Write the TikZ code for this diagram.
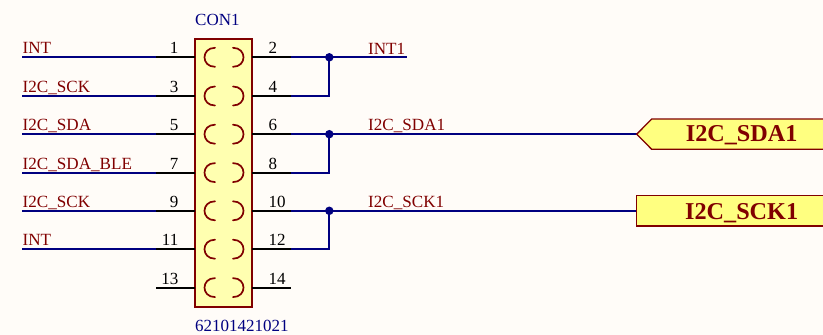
\documentclass[tikz,border=0pt]{standalone}
\usepackage{fontspec}
\setmainfont{Liberation Serif}
\definecolor{paper}{HTML}{FFFCF8}
\definecolor{wirecol}{HTML}{000080}
\definecolor{redcol}{HTML}{800000}
\definecolor{bodycol}{HTML}{FFFFB0}
\definecolor{portcol}{HTML}{FFFF80}
\tikzset{
  wire/.style={draw=wirecol,line width=2pt},
  pinline/.style={draw=black,line width=2pt},
  netlabel/.style={anchor=base west,inner sep=0pt,text=redcol,font=\fontsize{17.1}{20}\selectfont},
  pinl/.style={anchor=base east,inner sep=0pt,text=black,font=\fontsize{17}{20}\selectfont},
  pinr/.style={anchor=base west,inner sep=0pt,text=black,font=\fontsize{17}{20}\selectfont},
  deslabel/.style={anchor=base west,inner sep=0pt,text=wirecol,font=\fontsize{17}{20}\selectfont},
  porttext/.style={anchor=base west,inner sep=0pt,text=redcol,font=\fontsize{24.2}{28}\selectfont\bfseries},
  portshape/.style={draw=redcol,fill=portcol,line width=1.3pt},
  contact/.style={draw=redcol,line width=1.7pt,line cap=round},
  junction/.style={circle,fill=wirecol,inner sep=0pt,minimum size=8.5pt},
}
\begin{document}
\begin{tikzpicture}[x=1pt,y=-1pt]
\useasboundingbox (0,0) rectangle (823,335);
\clip (0,0) rectangle (823,335);
\fill[paper] (0,0) rectangle (823,335);
% connector body
\draw[draw=redcol,fill=bodycol,line width=2pt] (195,38.5) rectangle (252.3,306.5);
\node[deslabel] (des) at (195,25) {CON1};
\node[deslabel] (val) at (195,331.7) {62101421021};
% rows
\foreach \r/\yy/\a/\b in {1/57.3/1/2,2/96/3/4,3/134.2/5/6,4/172.6/7/8,5/210.8/9/10,6/249.2/11/12,7/287.6/13/14}{
  \coordinate (L\r) at (195,\yy);
  \coordinate (Lo\r) at (156,\yy);
  \coordinate (R\r) at (252.3,\yy);
  \coordinate (Ro\r) at (291,\yy);
  \coordinate (J\r) at (329.3,\yy);
  \draw[pinline] (L\r) -- (Lo\r);
  \draw[pinline] (R\r) -- (Ro\r);
  \node[pinl] (pa\r) at (178.5,\yy-3.4) {\a};
  \node[pinr] (pb\r) at (268.5,\yy-3.4) {\b};
  \draw[contact] (215,\yy-9.5) .. controls (201,\yy-9.5) and (201,\yy+9.5) .. (215,\yy+9.5);
  \draw[contact] (233,\yy-9.5) .. controls (247,\yy-9.5) and (247,\yy+9.5) .. (233,\yy+9.5);
}
% left nets
\foreach \r/\t in {1/INT,2/I2C\_SCK,3/I2C\_SDA,4/I2C\_SDA\_BLE,5/I2C\_SCK,6/INT}{
  \coordinate (W\r) at (22,0 |- L\r);
  \draw[wire] (W\r) -- (Lo\r);
  \path (W\r) ++(0.5,-3.5) node[netlabel] (lab\r) {\t};
}
% right nets
\coordinate (E1) at (407,57.3);
\node[netlabel] (int1) at (368,54) {INT1};
\node[netlabel] (sda1) at (368,130.7) {I2C\_SDA1};
\node[netlabel] (sck1) at (368,207.3) {I2C\_SCK1};
\coordinate (E3) at (636.7,134.2);
\coordinate (E5) at (636.5,210.8);
\draw[wire] (Ro1) -- (E1);
\draw[wire] (Ro3) -- (E3);
\draw[wire] (Ro5) -- (E5);
\draw[wire] (Ro2) -| (J1);
\draw[wire] (Ro4) -| (J3);
\draw[wire] (Ro6) -| (J5);
\node[junction] (j1) at (J1) {};
\node[junction] (j3) at (J3) {};
\node[junction] (j5) at (J5) {};
% ports
\draw[portshape] (E3) -- (651.7,119) -- (830,119) -- (830,149.3) -- (651.7,149.3) -- cycle;
\draw[portshape] (636.5,195.7) rectangle (830,226);
\node[porttext] (psda) at (685.7,141.7) {I2C\_SDA1};
\node[porttext] (psck) at (685,219) {I2C\_SCK1};
\end{tikzpicture}
\end{document}
